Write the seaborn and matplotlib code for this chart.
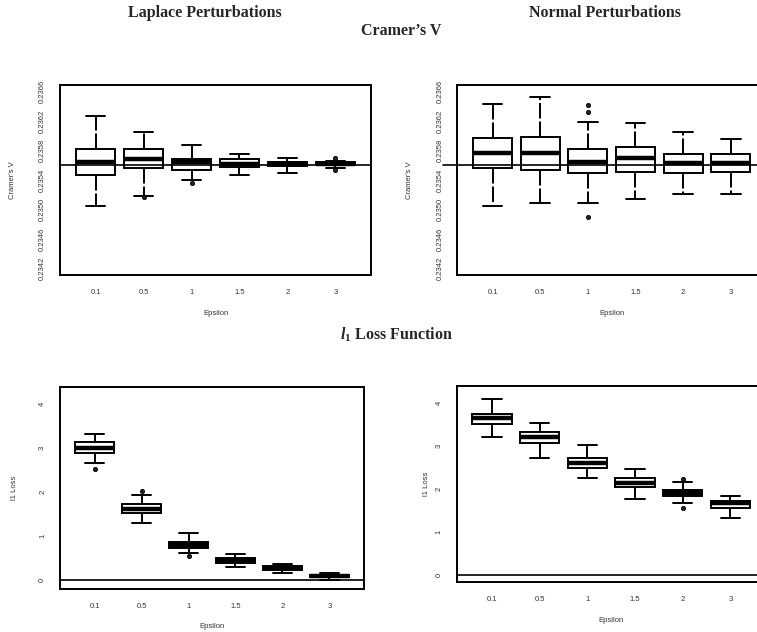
import numpy as np
import pandas as pd
import matplotlib
matplotlib.use("Agg")
import matplotlib.pyplot as plt
import seaborn as sns

# ---------------- data ----------------
eps_labels = ["0.1", "0.5", "1", "1.5", "2", "3"]

# each tuple: (lower whisker, Q1, median, Q3, upper whisker)
lap_cv = [
    (0.235043, 0.235464, 0.235640, 0.235816, 0.236272),
    (0.235183, 0.235559, 0.235681, 0.235816, 0.236055),
    (0.235400, 0.235536, 0.235640, 0.235681, 0.235871),
    (0.235468, 0.235580, 0.235617, 0.235681, 0.235753),
    (0.235499, 0.235586, 0.235613, 0.235640, 0.235702),
    (0.235563, 0.235617, 0.235621, 0.235644, 0.235660),
]
lap_cv_out_eps = ["0.5", "1", "3", "3"]
lap_cv_out = [0.235170, 0.235355, 0.235694, 0.235536]

nrm_cv = [
    (0.235047, 0.235559, 0.235770, 0.235965, 0.236431),
    (0.235092, 0.235536, 0.235770, 0.235987, 0.236530),
    (0.235092, 0.235491, 0.235640, 0.235816, 0.236191),
    (0.235142, 0.235513, 0.235694, 0.235843, 0.236169),
    (0.235210, 0.235491, 0.235635, 0.235753, 0.236051),
    (0.235210, 0.235513, 0.235635, 0.235753, 0.235960),
]
nrm_cv_out_eps = ["1", "1", "1"]
nrm_cv_out = [0.236417, 0.236326, 0.234902]

lap_l1 = [
    (2.67, 2.89, 2.99, 3.14, 3.33),
    (1.29, 1.52, 1.62, 1.73, 1.93),
    (0.62, 0.73, 0.80, 0.86, 1.06),
    (0.30, 0.38, 0.45, 0.51, 0.59),
    (0.15, 0.22, 0.27, 0.32, 0.36),
    (0.00, 0.06, 0.09, 0.11, 0.16),
]
lap_l1_out_eps = ["0.1", "0.5", "1"]
lap_l1_out = [2.52, 2.03, 0.55]

nrm_l1 = [
    (3.20, 3.50, 3.63, 3.73, 4.09),
    (2.72, 3.05, 3.19, 3.32, 3.53),
    (2.24, 2.47, 2.60, 2.72, 3.01),
    (1.76, 2.03, 2.14, 2.24, 2.45),
    (1.67, 1.83, 1.90, 1.97, 2.16),
    (1.31, 1.56, 1.66, 1.72, 1.84),
]
nrm_l1_out_eps = ["2", "2"]
nrm_l1_out = [2.22, 1.56]

cv_true = 0.23560
cv_ticks = [0.2342, 0.2346, 0.2350, 0.2354, 0.2358, 0.2362, 0.2366]
l1_ticks = [0, 1, 2, 3, 4]

# ---------------- style ----------------
sns.set_style("white")
plt.rcParams["font.family"] = ["Liberation Sans", "DejaVu Sans"]
plt.rcParams["mathtext.fontset"] = "custom"
plt.rcParams["mathtext.it"] = "Liberation Serif:italic:bold"
plt.rcParams["mathtext.rm"] = "Liberation Serif:bold"

fig = plt.figure(figsize=(7.57, 6.32), dpi=100)
W, H = 757, 632


def pos(l, r, t, b):
    return [l / W, (H - b) / H, (r - l) / W, (b - t) / H]


ax_tl = fig.add_axes(pos(60, 371, 85, 275))
ax_tr = fig.add_axes(pos(457.3, 766, 85, 275))
ax_bl = fig.add_axes(pos(60, 364, 387.3, 589.3))
ax_br = fig.add_axes(pos(456.7, 765.6, 386, 581.7))


def long_frame(stats):
    rows = []
    for lab, st in zip(eps_labels, stats):
        for v in st:
            rows.append((lab, v))
    return pd.DataFrame(rows, columns=["Epsilon", "value"])


def draw(ax, stats, out_eps, out_vals, ref, ylim, ticks, ticklabels, ylabel,
         ylab_x, xlab_y, ref_ext=0.0):
    df = long_frame(stats)
    sns.boxplot(data=df, x="Epsilon", y="value", order=eps_labels, ax=ax,
                whis=(0, 100), width=0.82, color="white", linecolor="black",
                linewidth=1.4, fliersize=0,
                medianprops={"linewidth": 3.2},
                whiskerprops={"linestyle": (0, (8, 1.5))})
    odf = pd.DataFrame({"Epsilon": out_eps, "value": out_vals})
    sns.stripplot(data=odf, x="Epsilon", y="value", order=eps_labels, ax=ax,
                  jitter=False, color="#222222", size=3.0, marker="o",
                  linewidth=0.6, edgecolor="black")
    ax.axhline(ref, xmin=-ref_ext, xmax=1, color="black", linewidth=1.2,
               clip_on=(ref_ext == 0))
    ax.set_xlim(-0.74, 5.74)
    ax.set_ylim(*ylim)
    ax.set_yticks(ticks)
    ax.set_yticklabels(ticklabels)
    ax.set_xticks(range(len(eps_labels)))
    ax.set_xticklabels(eps_labels)
    for s in ax.spines.values():
        s.set_visible(True)
        s.set_color("black")
        s.set_linewidth(1.4)
    ax.tick_params(axis="both", direction="out", length=5, width=1.1,
                   color="black", labelsize=5.5, labelcolor="#333333")
    ax.tick_params(axis="y", labelrotation=90, pad=5)
    ax.tick_params(axis="x", pad=5)
    for lab in ax.get_yticklabels():
        lab.set_va("center")
    ax.set_ylabel(ylabel, fontsize=5.5, color="#333333")
    ax.set_xlabel("Epsilon", fontsize=5.5, color="#333333")
    ax.yaxis.set_label_coords(ylab_x, 0.5)
    ax.xaxis.set_label_coords(0.5, xlab_y)
    ax.grid(False)


cv_labels = [f"{t:.4f}" for t in cv_ticks]
l1_labels = [str(t) for t in l1_ticks]

draw(ax_tl, lap_cv, lap_cv_out_eps, lap_cv_out, cv_true, (0.23411, 0.23669),
     cv_ticks, cv_labels, "Cramer's V", -0.14, -0.185)
draw(ax_tr, nrm_cv, nrm_cv_out_eps, nrm_cv_out, cv_true, (0.23411, 0.23669),
     cv_ticks, cv_labels, "Cramer's V", -0.142, -0.185, ref_ext=0.045)
draw(ax_bl, lap_l1, lap_l1_out_eps, lap_l1_out, 0.0, (-0.21, 4.38),
     l1_ticks, l1_labels, "l1 Loss", -0.138, -0.167)
draw(ax_br, nrm_l1, nrm_l1_out_eps, nrm_l1_out, 0.0, (-0.155, 4.38),
     l1_ticks, l1_labels, "l1 Loss", -0.088, -0.18)

tfont = dict(family=["Liberation Serif", "DejaVu Serif"], weight="bold",
             fontsize=11.5, ha="center", va="center")
fig.text(205 / W, 1 - 13 / H, "Laplace Perturbations", **tfont)
fig.text(605 / W, 1 - 13 / H, "Normal Perturbations", **tfont)
fig.text(401 / W, 1 - 31 / H, "Cramer\u2019s V", **tfont)
fig.text(396 / W, 1 - 335 / H, r"$\mathit{l}_{\mathit{1}}$ Loss Function", **tfont)

fig.savefig("out.png", dpi=100)
